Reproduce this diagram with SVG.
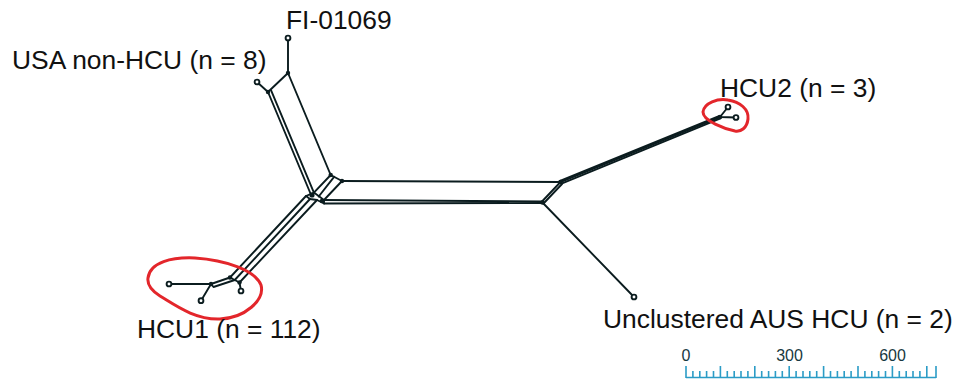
<svg xmlns="http://www.w3.org/2000/svg" width="965" height="379" viewBox="0 0 965 379">
<style>
.e{stroke:#0b1c1f;stroke-width:1.9;fill:none;stroke-linecap:round;stroke-linejoin:round}
.lf{fill:#fff;stroke:#0b1c1f;stroke-width:1.9}
.nd{fill:#0b1c1f}
.lbl{font-family:"Liberation Sans",Arial,sans-serif;font-size:26.4px;fill:#111}
.ring{fill:none;stroke:#e3262b;stroke-width:3}
.sc{stroke:#2b9cc6;stroke-width:1.6;fill:none}
.sct{font-family:"Liberation Sans",Arial,sans-serif;font-size:16px;fill:#173841;text-anchor:middle}
</style>
<rect width="965" height="379" fill="#fff"/>
<g id="connectors">
<path class="e" d="M288,38 L288,73 L268,92 L257,82"/>
<path class="e" d="M288,73 L330.7,175"/>
<path class="e" d="M268,92 L310.7,194"/>
<path class="e" d="M271.2,90.6 L313.9,192.6"/>
<path class="e" d="M330.7,175 L342,181 L324,200 L313.9,192.6 Z"/>
<path class="e" d="M334.1,176.8 L318.7,196.5"/>
<path class="e" d="M306,196 L313.9,192.6 M306,196 L310,199 L317,200 L324,203.5 L324,200"/>
<path class="e" d="M342,181 L560.5,182"/>
<path class="e" d="M324,200 L542,201.5"/>
<path class="e" d="M324,203.5 L542,203"/>
<path class="e" d="M560.5,182 L542,201.5"/>
<path class="e" d="M562,184 L543.5,203.5"/>
<path class="e" d="M560,181 L719.5,116"/>
<path class="e" d="M560.5,182.2 L720,117.2"/>
<path class="e" d="M561.5,183.6 L720.5,118.4"/>
<path class="e" d="M720,117 L728,107 M720,117 L736,117.5"/>
<path class="e" d="M542,202 L634,297"/>
<path class="e" d="M230,277.5 L306,196"/>
<path class="e" d="M234.75,280 L310,199"/>
<path class="e" d="M239.5,282.5 L317,200"/>
<path class="e" d="M230,277.5 L239.5,282.5 L241,291"/>
<path class="e" d="M211,284 L230,277.5 M211,284 L213.5,287 L234.75,280"/>
<path class="e" d="M169,284 L211,284 L201,300.7"/>
</g>
<g id="node-FI-01069">
<circle class="lf" cx="288" cy="38" r="2.4"/>
<circle class="nd" cx="288" cy="73" r="2.2"/>
<text class="lbl" x="286" y="29">FI-01069</text>
</g>
<g id="node-USA-non-HCU">
<circle class="lf" cx="257" cy="82" r="2.4"/>
<circle class="nd" cx="268" cy="92" r="2.2"/>
<text class="lbl" x="12" y="69">USA non-HCU (n = 8)</text>
</g>
<g id="node-center">
<circle class="nd" cx="330.7" cy="175" r="2.2"/>
<circle class="nd" cx="342" cy="181" r="2.2"/>
<circle class="nd" cx="312" cy="195" r="2.6"/>
<circle class="nd" cx="322" cy="201" r="2.3"/>
<circle class="nd" cx="560.5" cy="182" r="2.3"/>
<circle class="nd" cx="542.5" cy="202.5" r="2.3"/>
</g>
<g id="node-HCU2">
<circle class="nd" cx="720" cy="117" r="2.2"/>
<circle class="lf" cx="728" cy="107" r="2.4"/>
<circle class="lf" cx="736" cy="117.5" r="2.4"/>
<path class="ring" d="M703,112 C704,103 718,98 728,100 C740,102 749,109 748,119 C747,128 741,132 735,131 C725,129 703,121 703,112 Z"/>
<text class="lbl" x="720" y="97">HCU2 (n = 3)</text>
</g>
<g id="node-HCU1">
<circle class="nd" cx="211" cy="284" r="2.2"/>
<circle class="nd" cx="230" cy="277.5" r="2.2"/>
<circle class="nd" cx="239.5" cy="282.5" r="2.2"/>
<circle class="lf" cx="169" cy="284" r="2.4"/>
<circle class="lf" cx="201" cy="300.7" r="2.4"/>
<circle class="lf" cx="241" cy="291" r="2.4"/>
<path class="ring" d="M148,278 C150,262 172,257 195,258 C225,260 255,270 261,285 C265,300 245,318 220,319 C195,320 175,305 160,296 C152,291 147,285 148,278 Z"/>
<text class="lbl" x="137" y="338">HCU1 (n = 112)</text>
</g>
<g id="node-unclustered">
<circle class="lf" cx="634" cy="297" r="2.4"/>
<text class="lbl" x="603" y="328">Unclustered AUS HCU (n = 2)</text>
</g>
<g id="scale-bar">
<path class="sc" d="M686,377.5 H936"/>
<path class="sc" d="M686,366V378 M720.4,366V378 M754.8,366V378 M789.2,366V378 M823.6,366V378 M858,366V378 M892.4,366V378 M926.8,366V378 M936,366V378"/>
<path class="sc" d="M692.9,371V378 M699.8,371V378 M706.6,371V378 M713.5,371V378 M727.3,371V378 M734.2,371V378 M741,371V378 M747.9,371V378 M761.7,371V378 M768.6,371V378 M775.4,371V378 M782.3,371V378 M796.1,371V378 M803,371V378 M809.8,371V378 M816.7,371V378 M830.5,371V378 M837.4,371V378 M844.2,371V378 M851.1,371V378 M864.9,371V378 M871.8,371V378 M878.6,371V378 M885.5,371V378 M899.3,371V378 M906.2,371V378 M913,371V378 M919.9,371V378"/>
<text class="sct" x="686" y="361">0</text>
<text class="sct" x="789.5" y="361">300</text>
<text class="sct" x="892.5" y="361">600</text>
</g>
</svg>
